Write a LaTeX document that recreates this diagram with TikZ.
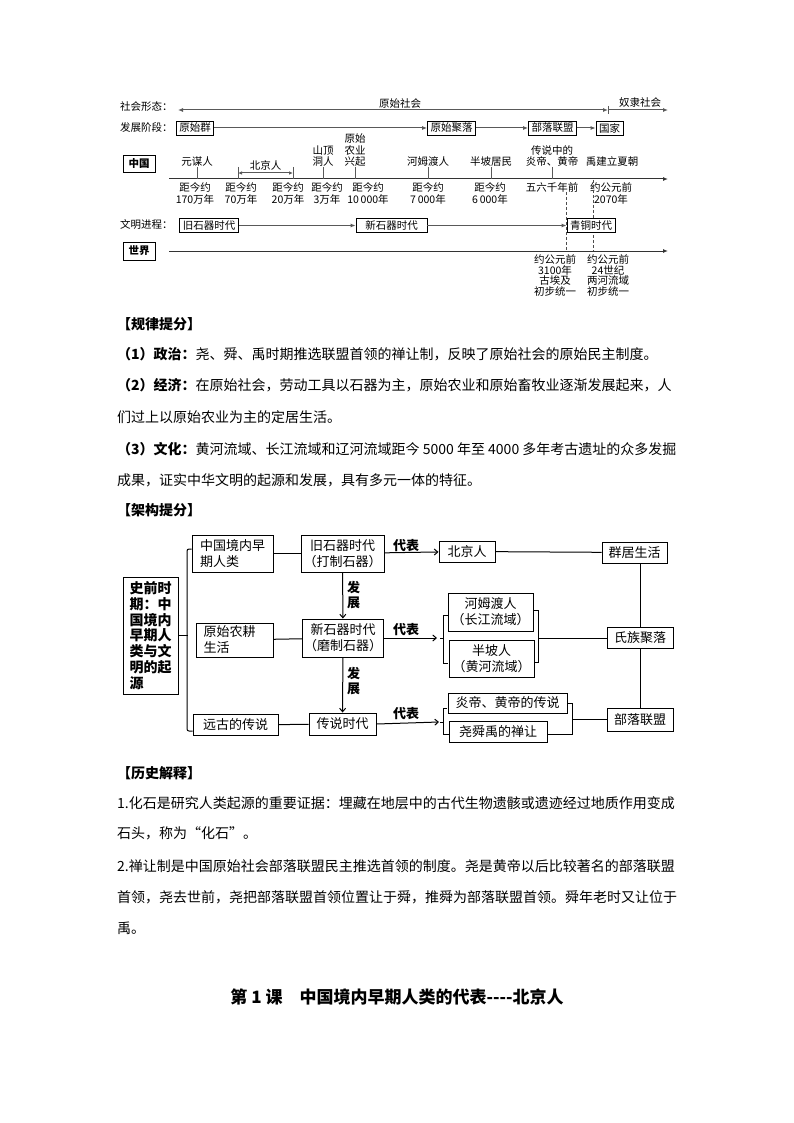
\documentclass[tikz,border=0pt]{standalone}
\usepackage{fontspec}
\setmainfont{Noto Sans CJK SC}
\usetikzlibrary{arrows.meta}

\tikzset{
  tl/.style={inner sep=0pt, align=center, font=\fontsize{10.5}{11.5}\selectfont},
  tlbox/.style={draw, fill=white, line width=0.8pt, inner xsep=3pt, inner ysep=0pt,
    minimum height=14pt, font=\fontsize{10.5}{12}\selectfont},
  tlline/.style={draw=black!65, line width=1pt},
  tlarr/.style={tlline, -{Latex[length=5pt,width=4pt]}},
  tldash/.style={draw=black!70, line width=0.8pt, dash pattern=on 3pt off 2pt},
  fbox/.style={draw, fill=white, line width=1pt, inner sep=0pt, align=center,
    font=\fontsize{13}{16}\selectfont},
  fline/.style={line width=1pt},
  farr/.style={fline, -{Straight Barb[length=3.5pt,width=6pt]}},
  lbl/.style={inner sep=0pt, align=center, font=\bfseries\fontsize{13}{15}\selectfont},
  txt/.style={anchor=base west, inner sep=0pt, font=\fontsize{14}{16}\selectfont},
}

\begin{document}
\begin{tikzpicture}[x=1pt, y=-1pt]
  \fill[white] (0,0) rectangle (794,1123);
  \useasboundingbox (0,0) rectangle (794,1123);

  % 社会形态
  \node[tl, anchor=west] (shxt) at (120,107) {社会形态：};
  \coordinate (s0) at (178,110);
  \coordinate (s1) at (608,110);
  \coordinate (s2) at (668,110);
  \draw[tlline, {Latex[length=5pt,width=4pt]}-{Latex[length=5pt,width=4pt]}] (s0) -- (s1);
  \draw[tlline] ([yshift=4pt]s1) -- ([yshift=-4pt]s1);
  \draw[tlarr] (s1) -- (s2);
  \node[tl] (yssh) at (400,103) {原始社会};
  \node[tl] (ylsh) at (640,103) {奴隶社会};

  % 发展阶段
  \node[tl, anchor=west] (fzjd) at (120,128) {发展阶段：};
  \node[tlbox] (yqq) at (195,128) {原始群};
  \node[tlbox] (ysjl) at (451.5,128) {原始聚落};
  \node[tlbox] (bllmA) at (552.5,128) {部落联盟};
  \node[tlbox] (gj) at (609.5,128) {国家};
  \draw[tlarr] (yqq) -- (ysjl);
  \draw[tlarr] (ysjl) -- (bllmA);
  \draw[tlarr] (bllmA) -- (gj);

  % 中国
  \node[tlbox, font=\bfseries\fontsize{10.5}{12}\selectfont, minimum width=32pt, minimum height=17pt] (zg) at (139,164) {中国};
  \coordinate (c0) at (169,179);
  \coordinate (c1) at (668,179);
  \draw[tlarr, draw=black!80] (c0) -- (c1);

  % 竖线与事件
  \node[tl, anchor=south] (yms) at (197,167) {元谋人};
  \draw[tlline] (yms.south) -- (yms.south |- c0);
  \node[tl, anchor=south] (bjrA) at (265.5,171) {北京人};
  \coordinate (bj0) at (238,173);
  \coordinate (bj1) at (293,173);
  \draw[tlline, {Latex[length=4pt,width=3.5pt]}-{Latex[length=4pt,width=3.5pt]}] (bj0) -- (bj1);
  \draw[tlline] ([yshift=6pt]bj0) -- (bj0 |- c0);
  \draw[tlline] ([yshift=6pt]bj1) -- (bj1 |- c0);
  \node[tl, anchor=south] (sdd) at (323,167) {山顶\\洞人};
  \draw[tlline] (sdd.south) -- (sdd.south |- c0);
  \node[tl, anchor=south] (ysny) at (355,167) {原始\\农业\\兴起};
  \draw[tlline] (ysny.south) -- (ysny.south |- c0);
  \node[tl, anchor=south] (hmdA) at (428,167) {河姆渡人};
  \draw[tlline] (hmdA.south) -- (hmdA.south |- c0);
  \node[tl, anchor=south] (bpjm) at (491,167) {半坡居民};
  \draw[tlline] (bpjm.south) -- (bpjm.south |- c0);
  \node[tl, anchor=south] (yhdA) at (552,167) {传说中的\\炎帝、黄帝};
  \draw[tlline] (yhdA.south) -- (yhdA.south |- c0);
  \node[tl] (yjxc) at (612,161) {禹建立夏朝};

  % 年代
  \node[tl, anchor=north] (d1) at (195,182.5) {距今约\\170万年};
  \node[tl, anchor=north] (d2) at (241,182.5) {距今约\\70万年};
  \node[tl, anchor=north] (d3) at (288,182.5) {距今约\\20万年};
  \node[tl, anchor=north] (d4) at (327,182.5) {距今约\\3万年};
  \node[tl, anchor=north] (d5) at (368,182.5) {距今约\\10\,000年};
  \node[tl, anchor=north] (d6) at (428,182.5) {距今约\\7\,000年};
  \node[tl, anchor=north] (d7) at (490,182.5) {距今约\\6\,000年};
  \node[tl, anchor=north] (d8) at (552,182.5) {五六千年前};
  \node[tl, anchor=north] (d9) at (611,182.5) {约公元前\\2070年};

  % 世界
  \node[tlbox, font=\bfseries\fontsize{10.5}{12}\selectfont, minimum width=32pt, minimum height=18pt] (sj) at (139,251) {世界};
  \coordinate (w0) at (169,251);
  \coordinate (w1) at (668,251);
  \draw[tlarr, draw=black!80] (w0) -- (w1);
  % 虚线
  \coordinate (q0) at (566,192);
  \coordinate (q1) at (593,180);
  \draw[tldash] (q0) -- (q0 |- w0);
  \draw[tldash] (q1) -- (q1 |- w0);
  \node[tl, anchor=north, font=\fontsize{10.5}{10.5}\selectfont] (e1) at (555,254.5) {约公元前\\3100年\\古埃及\\初步统一};
  \node[tl, anchor=north, font=\fontsize{10.5}{10.5}\selectfont] (e2) at (608,254.5) {约公元前\\24世纪\\两河流域\\初步统一};

  % 文明进程
  \node[tl, anchor=west] (wmjc) at (120,225) {文明进程：};
  \node[tlbox] (jsqA) at (209,225.5) {旧石器时代};
  \node[tlbox, minimum width=71pt] (xsqA) at (391.5,225.5) {新石器时代};
  \node[tlbox] (qtsd) at (591,225.5) {青铜时代};
  \draw[tlarr] (jsqA) -- (xsqA);
  \draw[tlarr] (xsqA) -- (qtsd);

  % 正文
  \node[txt, font=\bfseries\fontsize{14}{16}\selectfont] (t0) at (117,329) {【规律提分】};
  \node[txt] (t1) at (117,359) {{\bfseries （1）政治：}尧、舜、禹时期推选联盟首领的禅让制，反映了原始社会的原始民主制度。};
  \node[txt] (t2) at (117,390) {{\bfseries （2）经济：}在原始社会，劳动工具以石器为主，原始农业和原始畜牧业逐渐发展起来，人};
  \node[txt] (t3) at (117,422) {们过上以原始农业为主的定居生活。};
  \node[txt] (t4) at (117,454) {{\bfseries （3）文化：}黄河流域、长江流域和辽河流域距今 5000 年至 4000 多年考古遗址的众多发掘};
  \node[txt] (t5) at (117,485) {成果，证实中华文明的起源和发展，具有多元一体的特征。};
  \node[txt, font=\bfseries\fontsize{14}{16}\selectfont] (t6) at (117,515) {【架构提分】};

  % 架构图
  \node[fbox, minimum width=55pt, minimum height=117pt, align=left, font=\bfseries\fontsize{14}{15.8}\selectfont] (qs) at (150.5,635.5)
    {史前时\\期：中\\国境内\\早期人\\类与文\\明的起\\源};
  \node[fbox, minimum width=81pt, minimum height=37pt, align=left] (zgjn) at (232.5,553.5) {中国境内早\\期人类};
  \node[fbox, minimum width=77pt, minimum height=34pt, align=left, text width=62pt] (ysnk) at (234.5,640) {原始农耕\\生活};
  \node[fbox, minimum width=85pt, minimum height=21pt] (ygcs) at (235.5,725) {远古的传说};
  \node[fbox, minimum width=83pt, minimum height=37pt] (jsq) at (342.5,553.5) {旧石器时代\\（打制石器）};
  \node[fbox, minimum width=81pt, minimum height=38pt] (xsq) at (343,638) {新石器时代\\（磨制石器）};
  \node[fbox, minimum width=67pt, minimum height=22pt] (csdd) at (342.5,724) {传说时代};
  \node[fbox, minimum width=56pt, minimum height=21pt] (bjr) at (467,551.5) {北京人};
  \node[fbox, minimum width=85pt, minimum height=38pt] (hmd) at (490.5,612) {河姆渡人\\（长江流域）};
  \node[fbox, minimum width=85pt, minimum height=37pt] (bp) at (491.5,658.5) {半坡人\\（黄河流域）};
  \node[fbox, minimum width=119pt, minimum height=20pt] (yh) at (507.5,703) {炎帝、黄帝的传说};
  \node[fbox, minimum width=98pt, minimum height=21pt] (ysy) at (498,732) {尧舜禹的禅让};
  \node[fbox, minimum width=65pt, minimum height=21pt] (qjsh) at (634.5,552.5) {群居生活};
  \node[fbox, minimum width=66pt, minimum height=21pt] (szjl) at (640,637.5) {氏族聚落};
  \node[fbox, minimum width=66pt, minimum height=23pt] (bllm) at (640,719.5) {部落联盟};

  % 左侧括线
  \draw[fline] (qs.east) -- ++(9,0);
  \draw[fline, rounded corners=2pt] ([yshift=4.5pt]zgjn.west) -| (187,638) |- ([yshift=-6pt]ygcs.west);
  \draw[fline] (zgjn) -- (jsq);
  \draw[fline] (ysnk) -- (xsq);
  \draw[fline] (ygcs) -- (csdd);

  % 发展
  \draw[farr] (jsq) -- (xsq);
  \node[lbl, anchor=west] (fz1) at (347,595) {发\\展};
  \draw[farr] (xsq) -- (csdd);
  \node[lbl, anchor=west] (fz2) at (347,681) {发\\展};

  % 代表
  \coordinate (r1) at (437,638);
  \coordinate (r2) at (439,722);
  \draw[farr] (jsq) -- (bjr);
  \node[lbl, anchor=south] (db1) at (406,552) {代表};
  \draw[farr] (xsq.east) -- (r1);
  \node[lbl, anchor=south] (db2) at (406,636) {代表};
  \draw[farr] (csdd.east) -- (r2);
  \node[lbl, anchor=south] (db3) at (406,720) {代表};

  % 右侧括号
  \draw[fline] (448,615) -- (443,615) -- (443,663) -- (448,663);
  \draw[fline] (443,638) -- (440,638);
  \draw[fline] (534,610) -- (538,610) -- (538,662) -- (534,662);
  \coordinate (k1) at (538,638);
  \draw[fline] (k1) -- (szjl.west |- k1);
  \draw[fline] (447,708) -- (443,708) -- (443,734) -- (449,734);
  \draw[fline] (443,722) -- (440,722);
  \draw[fline] (568,703) -- (572,703) -- (572,734) -- (547,734);
  \coordinate (k2) at (572,719);
  \draw[fline] (k2) -- (bllm.west |- k2);

  \draw[fline] (bjr) -- (qjsh);
  \draw[fline] (szjl.north |- qjsh.south) -- (szjl.north);
  \draw[fline] (szjl.south) -- (bllm.north -| szjl.south);

  % 历史解释
  \node[txt, font=\bfseries\fontsize{14}{16}\selectfont] (t7) at (117,778) {【历史解释】};
  \node[txt] (t8) at (117,808) {1.化石是研究人类起源的重要证据：埋藏在地层中的古代生物遗骸或遗迹经过地质作用变成};
  \node[txt] (t9) at (117,838) {石头，称为“化石”。};
  \node[txt] (t10) at (117,871) {2.禅让制是中国原始社会部落联盟民主推选首领的制度。尧是黄帝以后比较著名的部落联盟};
  \node[txt] (t11) at (117,902) {首领，尧去世前，尧把部落联盟首领位置让于舜，推舜为部落联盟首领。舜年老时又让位于};
  \node[txt] (t12) at (117,933) {禹。};
  \node[anchor=base, inner sep=0pt, font=\bfseries\fontsize{17}{19}\selectfont] (t13) at (397,1003) {第 1 课\quad 中国境内早期人类的代表-{}-{}-{}-北京人};
\end{tikzpicture}
\end{document}
